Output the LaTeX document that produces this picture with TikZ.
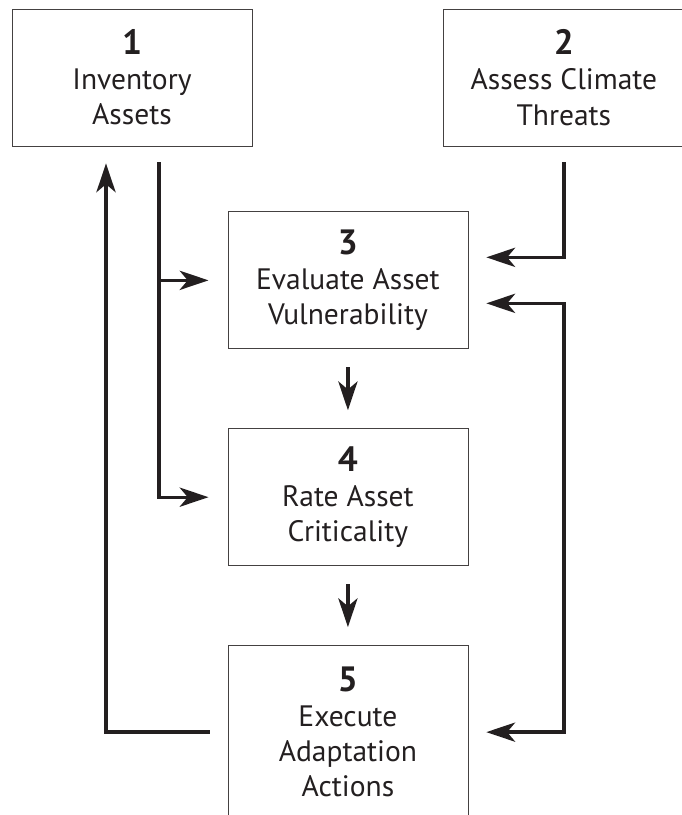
\documentclass[tikz,border=0pt]{standalone}
\usepackage{xcolor}
\usepackage{fontspec}
\setmainfont{PT Sans}
\usepackage{tikz}
\usetikzlibrary{calc, positioning, arrows.meta}

\definecolor{ink}{HTML}{231F20}

\begin{document}
\begin{tikzpicture}[
			node distance=1cm,
			auto,
			>={Stealth[length=0.72cm, width=0.48cm, inset=0.2cm]},
			stepbox/.style={draw=ink!85, line width=0.6pt, rectangle, minimum width=6cm, minimum height=3.425cm, align=center, text=ink, font=\fontsize{21}{25}\selectfont},
			flow/.style={draw=ink, line width=2.4pt}
		]
		\useasboundingbox (0,0) rectangle (17.025,-20.375);

		\node[stepbox] (inv) at (3.3,-1.9375) {{\fontsize{25}{25}\selectfont\bfseries 1}\\Inventory\\Assets};
		\node[stepbox, right=4.775cm of inv] (threat) {{\fontsize{25}{25}\selectfont\bfseries 2}\\Assess Climate\\Threats};

		\coordinate (mid) at ($(inv.south)!0.5!(threat.south)$);
		\node[stepbox, below=1.625cm of mid] (vuln) {{\fontsize{25}{25}\selectfont\bfseries 3}\\Evaluate Asset\\Vulnerability};
		\node[stepbox, below=1.975cm of vuln] (crit) {{\fontsize{25}{25}\selectfont\bfseries 4}\\Rate Asset\\Criticality};
		\node[stepbox, minimum height=4.33cm, below=1.975cm of crit] (act) {{\fontsize{25}{25}\selectfont\bfseries 5}\\Execute\\Adaptation\\Actions};

		% assets feed steps 3 and 4
		\coordinate (tap) at ([xshift=0.675cm, yshift=-0.4cm]inv.south);
		\draw[flow, ->] (tap) |- ([xshift=-0.475cm]crit.west);
		\draw[flow, ->] (tap |- vuln.west) -- ([xshift=-0.475cm]vuln.west);

		% threats feed step 3
		\draw[flow, ->] ([yshift=-0.4cm]threat.south) |- ([xshift=0.45cm, yshift=0.575cm]vuln.east);

		% main sequence
		\draw[flow, ->] ([yshift=-0.45cm]vuln.south) -- ([yshift=0.45cm]crit.north);
		\draw[flow, ->] ([yshift=-0.45cm]crit.south) -- ([yshift=0.45cm]act.north);

		% feedback loops
		\draw[flow, <->] ([xshift=0.45cm, yshift=-0.575cm]vuln.east) -| (threat.south |- act.east) -- ([xshift=0.45cm]act.east);
		\draw[flow, ->] ([xshift=-0.45cm]act.west) -| ([xshift=-0.65cm, yshift=-0.425cm]inv.south);
	\end{tikzpicture}
\end{document}
